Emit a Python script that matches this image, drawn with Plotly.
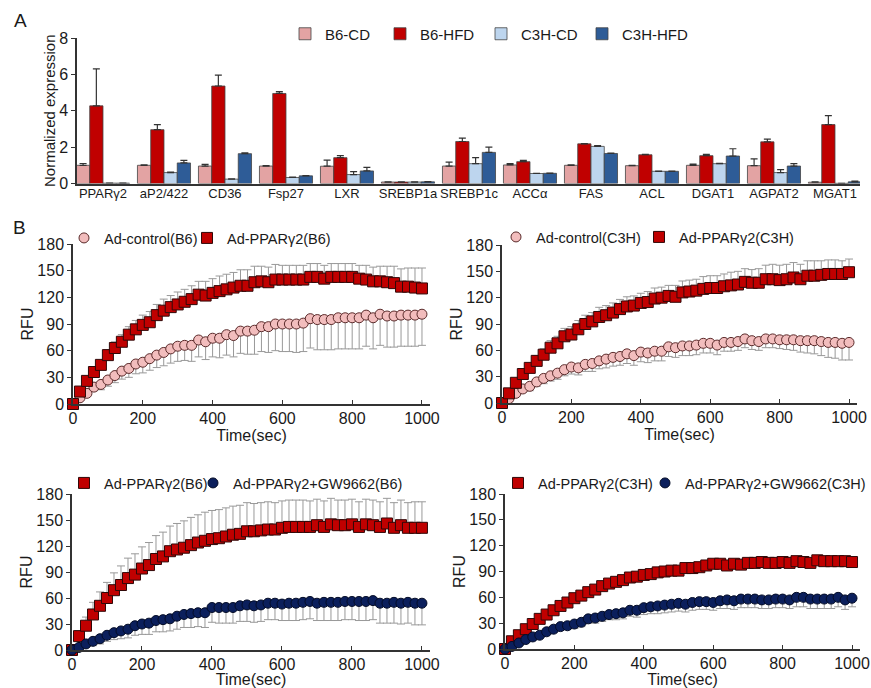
import plotly.graph_objects as go

# ---------------- Panel A data ----------------
genes = ["PPARγ2", "aP2/422", "CD36", "Fsp27", "LXR", "SREBP1a", "SREBP1c",
         "ACCα", "FAS", "ACL", "DGAT1", "AGPAT2", "MGAT1"]
b6_cd = [1.00, 1.00, 0.96, 0.96, 0.95, 0.08, 0.96, 1.02, 1.00, 0.98, 1.00, 0.98, 0.07]
b6_cd_err = [0.10, 0.02, 0.09, 0.02, 0.34, 0.01, 0.22, 0.07, 0.02, 0.02, 0.07, 0.37, 0.02]
b6_hfd = [4.27, 2.96, 5.36, 4.95, 1.42, 0.08, 2.31, 1.20, 2.18, 1.58, 1.53, 2.29, 3.24]
b6_hfd_err = [2.03, 0.28, 0.60, 0.10, 0.11, 0.01, 0.18, 0.07, 0.02, 0.02, 0.07, 0.15, 0.49]
c3h_cd = [0.02, 0.60, 0.24, 0.33, 0.49, 0.08, 1.09, 0.55, 2.04, 0.67, 1.09, 0.60, 0.01]
c3h_cd_err = [0.00, 0.02, 0.02, 0.02, 0.16, 0.01, 0.33, 0.01, 0.05, 0.01, 0.02, 0.16, 0.00]
c3h_hfd = [0.02, 1.13, 1.64, 0.42, 0.69, 0.09, 1.71, 0.56, 1.65, 0.67, 1.51, 0.96, 0.09]
c3h_hfd_err = [0.00, 0.14, 0.05, 0.02, 0.20, 0.01, 0.29, 0.01, 0.02, 0.01, 0.40, 0.13, 0.04]

# ---------------- Panel B data ----------------
time_sec = [0, 20, 40, 60, 80, 100, 120, 140, 160, 180, 200, 220, 240, 260, 280, 300,
            320, 340, 360, 380, 400, 420, 440, 460, 480, 500, 520, 540, 560, 580, 600,
            620, 640, 660, 680, 700, 720, 740, 760, 780, 800, 820, 840, 860, 880, 900,
            920, 940, 960, 980, 1000]

# top-left (B6)
ctrl_b6 = [0, 7, 12, 19, 22, 27, 32, 37, 40, 45, 47, 51, 55, 58, 62, 65, 66, 66, 72, 70,
           74, 74, 78, 77, 82, 82, 83, 87, 87, 90, 90, 90, 90, 91, 96, 95, 95, 95, 97, 97,
           97, 97, 100, 97, 101, 99, 99, 100, 100, 100, 101]
ctrl_b6_err = [0, 2, 3, 4, 6, 7, 8, 9, 10, 11, 12, 13, 14, 15, 16, 17, 17, 18, 19, 20,
               21, 22, 23, 24, 25, 26, 27, 28, 29, 30, 31, 31, 32, 32, 33, 34, 34, 34, 35, 35,
               35, 35, 35, 35, 35, 35, 35, 35, 35, 35, 35]
ppar_b6 = [0, 14, 26, 36, 44, 55, 63, 70, 78, 84, 89, 92, 100, 105, 109, 112, 115, 118, 123, 122,
           125, 127, 129, 131, 133, 133, 137, 138, 137, 140, 140, 140, 140, 140, 143, 143, 141, 143, 143, 143,
           143, 141, 140, 138, 138, 137, 136, 132, 132, 131, 130]
ppar_b6_err = [0, 2, 3, 4, 5, 6, 7, 8, 9, 10, 11, 12, 12, 13, 13, 14, 14, 15, 15, 16,
               16, 17, 17, 17, 18, 18, 18, 17, 17, 17, 16, 16, 16, 16, 15, 15, 15, 15, 15, 15,
               15, 15, 16, 16, 17, 18, 19, 20, 21, 22, 23]

# top-right (C3H)
ctrl_c3h = [0, 5, 11, 16, 19, 24, 28, 31, 34, 38, 41, 40, 44, 45, 48, 50, 52, 53, 56, 54,
            58, 57, 59, 59, 64, 63, 65, 65, 66, 68, 68, 66, 69, 69, 70, 73, 71, 70, 73, 73,
            72, 72, 72, 71, 71, 71, 70, 69, 69, 68, 69]
ctrl_c3h_err = [0, 2, 3, 4, 5, 5, 6, 6, 7, 7, 8, 8, 8, 9, 9, 10, 10, 10, 11, 11,
                11, 11, 11, 11, 11, 11, 11, 11, 11, 11, 11, 11, 10, 10, 10, 10, 10, 10, 10, 10,
                10, 11, 12, 13, 14, 15, 16, 17, 18, 19, 20]
ppar_c3h = [0, 11, 23, 33, 40, 48, 55, 63, 68, 76, 78, 84, 90, 93, 98, 100, 103, 107, 110, 111,
            114, 115, 119, 120, 122, 121, 126, 127, 128, 130, 131, 131, 133, 134, 135, 138, 137, 137, 141, 141,
            140, 141, 143, 141, 145, 145, 146, 147, 147, 147, 149]
ppar_c3h_err = [0, 2, 3, 4, 5, 6, 7, 8, 8, 9, 9, 10, 10, 10, 11, 11, 11, 11, 11, 11,
                11, 12, 12, 12, 12, 13, 13, 13, 13, 14, 14, 14, 14, 15, 15, 15, 15, 16, 16, 17,
                17, 17, 17, 17, 17, 17, 16, 16, 16, 15, 15]

# bottom-left (B6 + GW9662)
ppar2_b6 = [0, 16, 28, 41, 51, 60, 69, 75, 83, 87, 94, 98, 105, 108, 114, 116, 118, 121, 124, 126,
            128, 129, 131, 133, 134, 137, 137, 138, 139, 139, 141, 142, 142, 142, 142, 144, 142, 145, 144, 144,
            145, 142, 145, 144, 142, 146, 141, 144, 141, 141, 141]
ppar2_b6_err = [0, 6, 10, 14, 16, 18, 20, 22, 23, 24, 25, 26, 27, 28, 29, 30, 31, 32, 32, 33,
                33, 33, 33, 33, 33, 33, 32, 32, 32, 31, 31, 31, 31, 31, 30, 30, 30, 30, 29, 29,
                29, 29, 29, 29, 29, 29, 29, 29, 29, 30, 30]
gw_b6 = [0, 3, 7, 10, 13, 17, 20, 22, 24, 28, 30, 31, 34, 35, 36, 39, 41, 42, 43, 43,
         49, 49, 49, 49, 51, 52, 51, 52, 54, 54, 53, 54, 54, 55, 56, 54, 55, 55, 55, 56,
         56, 56, 56, 57, 54, 54, 55, 54, 55, 54, 54]
gw_b6_err = [0, 2, 4, 5, 6, 7, 8, 9, 10, 11, 12, 13, 13, 14, 14, 15, 15, 16, 16, 17,
             17, 18, 18, 18, 18, 19, 19, 19, 19, 19, 19, 20, 20, 20, 20, 20, 21, 21, 21, 21,
             21, 22, 22, 22, 23, 23, 24, 24, 24, 25, 25]

# bottom-right (C3H + GW9662)
ppar2_c3h = [0, 9, 16, 23, 29, 35, 40, 45, 50, 54, 59, 62, 66, 69, 73, 76, 78, 80, 83, 84,
             86, 87, 89, 90, 91, 91, 94, 94, 95, 97, 99, 99, 97, 99, 98, 100, 100, 101, 100, 100,
             101, 100, 102, 101, 100, 103, 102, 102, 102, 102, 101]
ppar2_c3h_err = [0, 1, 1, 2, 2, 2, 2, 3, 3, 3, 3, 3, 3, 3, 3, 4, 4, 4, 4, 4,
                 4, 4, 4, 5, 5, 5, 5, 5, 5, 5, 5, 5, 5, 5, 5, 5, 5, 5, 5, 5,
                 5, 5, 4, 4, 4, 4, 4, 4, 4, 4, 4]
gw_c3h = [0, 3, 7, 11, 14, 16, 20, 23, 26, 27, 29, 31, 35, 36, 38, 40, 41, 42, 45, 45,
          48, 49, 50, 51, 52, 53, 52, 54, 55, 55, 54, 56, 57, 56, 58, 58, 58, 57, 57, 58,
          58, 57, 60, 60, 58, 58, 58, 58, 60, 57, 59]
gw_c3h_err = [0, 1, 2, 2, 3, 3, 3, 4, 4, 4, 5, 5, 5, 6, 6, 6, 7, 7, 7, 8,
              8, 8, 9, 9, 9, 9, 9, 9, 9, 9, 9, 9, 10, 10, 10, 10, 10, 10, 10, 10,
              10, 10, 11, 11, 11, 11, 11, 11, 11, 11, 10]

# ---------------- styling ----------------
W, H = 871, 688
FONT = "Arial, Liberation Sans, sans-serif"
TXT = "#1a1a1a"
AX = "#333333"


def px_x(p):
    return p / W


def px_y(p):
    return 1 - p / H


fig = go.Figure()

bar_specs = [
    ("B6-CD", b6_cd, b6_cd_err, "#E3A3A3", "legend"),
    ("B6-HFD", b6_hfd, b6_hfd_err, "#C00000", "legend2"),
    ("C3H-CD", c3h_cd, c3h_cd_err, "#BDD5EE", "legend3"),
    ("C3H-HFD", c3h_hfd, c3h_hfd_err, "#2E5C97", "legend4"),
]
for name, vals, errs, col, lg in bar_specs:
    fig.add_trace(go.Bar(
        x=genes, y=vals, name=name, legend=lg, showlegend=True,
        marker=dict(color=col, line=dict(color="#444444", width=0.8)),
        error_y=dict(type="data", array=errs, arrayminus=[0] * len(errs), symmetric=False,
                     color="#333333", thickness=1.2, width=3.5),
        xaxis="x", yaxis="y",
    ))

CTRL = dict(symbol="circle", size=10, color="#F2BDBD", line=dict(color="#5a2a2a", width=1))
PPAR = dict(symbol="square", size=11, color="#C00000", line=dict(color="#300808", width=1))
GW = dict(symbol="circle", size=10, color="#0B1F5C", line=dict(color="#040c26", width=1))
ERR = dict(color="#999999", thickness=1, width=4)


def add_series(name, vals, errs, marker, up, xa, ya, lg):
    zeros = [0] * len(errs)
    e = dict(type="data", symmetric=False,
             array=errs if up else zeros, arrayminus=zeros if up else errs, **ERR)
    fig.add_trace(go.Scatter(
        x=time_sec, y=vals, name=name, mode="markers", marker=marker, showlegend=True,
        error_y=e, cliponaxis=False, xaxis=xa, yaxis=ya, legend=lg))


add_series("Ad-control(B6)", ctrl_b6, ctrl_b6_err, CTRL, False, "x2", "y2", "legend5")
add_series("Ad-PPARγ2(B6)", ppar_b6, ppar_b6_err, PPAR, True, "x2", "y2", "legend6")
add_series("Ad-control(C3H)", ctrl_c3h, ctrl_c3h_err, CTRL, False, "x3", "y3", "legend7")
add_series("Ad-PPARγ2(C3H)", ppar_c3h, ppar_c3h_err, PPAR, True, "x3", "y3", "legend8")
add_series("Ad-PPARγ2(B6)", ppar2_b6, ppar2_b6_err, PPAR, True, "x4", "y4", "legend9")
add_series("Ad-PPARγ2+GW9662(B6)", gw_b6, gw_b6_err, GW, False, "x4", "y4", "legend10")
add_series("Ad-PPARγ2(C3H)", ppar2_c3h, ppar2_c3h_err, PPAR, True, "x5", "y5", "legend11")
add_series("Ad-PPARγ2+GW9662(C3H)", gw_c3h, gw_c3h_err, GW, False, "x5", "y5", "legend12")

tickfont = dict(family=FONT, size=16, color=TXT)
layout = dict(
    width=W, height=H,
    margin=dict(l=0, r=0, t=0, b=0, autoexpand=False),
    paper_bgcolor="white", plot_bgcolor="white",
    font=dict(family=FONT, color=TXT),
    barmode="group", bargap=0.13, bargroupgap=0,
    showlegend=True,
)

# Panel A axes
layout["xaxis"] = dict(domain=[px_x(77), px_x(860)], range=[-0.426, 12.41], type="category",
                       showline=True, linecolor=AX, linewidth=1.5, ticks="", showgrid=False,
                       tickangle=0, automargin=False, ticklabelstandoff=-3,
                       tickfont=dict(family=FONT, size=13, color=TXT), anchor="y", fixedrange=True)
layout["yaxis"] = dict(domain=[px_y(183.5), px_y(38)], range=[0, 8], tickvals=[0, 2, 4, 6, 8],
                       showline=True, linecolor=AX, linewidth=1.5, ticks="outside", ticklen=4,
                       tickcolor=AX, showgrid=False, zeroline=False, anchor="x", automargin=False,
                       tickfont=dict(family=FONT, size=16, color=TXT),
                       title=dict(text="Normalized expression", font=dict(family=FONT, size=15, color=TXT),
                                  standoff=0))

panels = {
    2: ((73, 430), (404, 244)),
    3: ((502, 857), (403, 245)),
    4: ((72, 430), (650, 494)),
    5: ((505, 860), (649, 494)),
}
for k, ((xl, xr), (yb, yt)) in panels.items():
    layout[f"xaxis{k}"] = dict(domain=[px_x(xl), px_x(xr)], range=[0, 1023],
                               tickvals=[0, 200, 400, 600, 800, 1000],
                               showline=True, linecolor=AX, linewidth=1.5, ticks="inside", ticklen=4,
                               tickcolor=AX, showgrid=False, zeroline=False, anchor=f"y{k}",
                               tickfont=tickfont, automargin=False, ticklabelstandoff=-1,
                               title=dict(text="Time(sec)", font=dict(family=FONT, size=16, color=TXT),
                                          standoff=0))
    layout[f"yaxis{k}"] = dict(domain=[px_y(yb), px_y(yt)], range=[0, 180],
                               tickvals=[0, 30, 60, 90, 120, 150, 180],
                               showline=True, linecolor=AX, linewidth=1.5, ticks="outside", ticklen=4,
                               tickcolor=AX, showgrid=False, zeroline=False, anchor=f"x{k}",
                               tickfont=tickfont, automargin=False,
                               title=dict(text="RFU", font=dict(family=FONT, size=16, color=TXT),
                                          standoff=0))


def leg(xp, yp, size=14.5):
    return dict(x=px_x(xp), y=px_y(yp), xanchor="left", yanchor="middle",
                orientation="h", bgcolor="rgba(0,0,0,0)", borderwidth=0,
                font=dict(family=FONT, size=size, color=TXT))


layout["legend"] = leg(285, 34, 15)
layout["legend2"] = leg(380, 34, 15)
layout["legend3"] = leg(481, 34, 15)
layout["legend4"] = leg(582, 34, 15)
layout["legend5"] = leg(64, 238)
layout["legend6"] = leg(187, 238)
layout["legend7"] = leg(496, 237)
layout["legend8"] = leg(639, 237)
layout["legend9"] = leg(64, 483)
layout["legend10"] = leg(193, 483)
layout["legend11"] = leg(498, 483)
layout["legend12"] = leg(645, 483)

layout["annotations"] = [
    dict(text="A", x=px_x(12), y=px_y(20), xref="paper", yref="paper", showarrow=False,
         xanchor="left", yanchor="middle", font=dict(family=FONT, size=19, color=TXT)),
    dict(text="B", x=px_x(11), y=px_y(228), xref="paper", yref="paper", showarrow=False,
         xanchor="left", yanchor="middle", font=dict(family=FONT, size=19, color=TXT)),
]

fig.update_layout(**layout)
fig.write_html("out.html", config={"displayModeBar": False},
               post_script="document.body.style.margin='0';document.body.style.overflow='hidden';")
